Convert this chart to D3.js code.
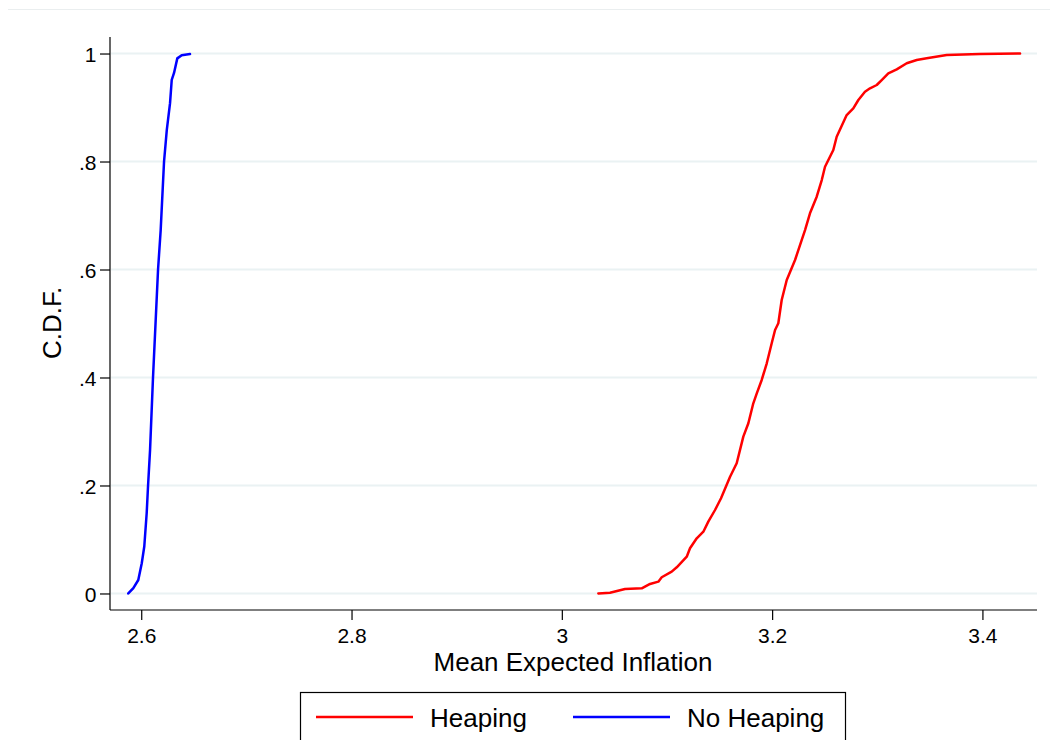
<!DOCTYPE html>
<html>
<head>
<meta charset="utf-8">
<script src="https://cdn.jsdelivr.net/npm/d3@7"></script>
<style>
  html, body { margin: 0; padding: 0; background: #fff; }
  svg { display: block; font-family: "Liberation Sans", Arial, Helvetica, sans-serif; }
</style>
</head>
<body>
<svg id="chart" width="1057" height="740"></svg>
<script>
// ---- Data ----
const heapingX = [3.0347,3.0458,3.0601,3.0760,3.0839,3.0918,3.0950,3.1045,3.1093,3.1188,3.1219,3.1283,3.1346,3.1393,3.1457,3.1514,3.1600,3.1663,3.1726,3.1774,3.1821,3.1854,3.1901,3.1949,3.1996,3.2028,3.2059,3.2091,3.2139,3.2218,3.2281,3.2313,3.2360,3.2424,3.2472,3.2503,3.2582,3.2614,3.2709,3.2772,3.2820,3.2883,3.2931,3.2995,3.3042,3.3105,3.3185,3.3280,3.3375,3.3470,3.3660,3.3977,3.4358];
const heapingY = [0.000,0.0015,0.0083,0.0096,0.0176,0.0219,0.030,0.0404,0.0485,0.0681,0.0837,0.1022,0.1144,0.1330,0.1546,0.1763,0.2163,0.2411,0.2904,0.3152,0.3522,0.3707,0.3954,0.4263,0.4633,0.4880,0.5004,0.5435,0.5806,0.6176,0.6546,0.6731,0.7041,0.7348,0.7657,0.7904,0.8213,0.8459,0.8861,0.8985,0.9139,0.9293,0.9356,0.9417,0.9509,0.9633,0.9707,0.9819,0.9880,0.9911,0.9972,0.9991,1.000];
const noHeapingX = [2.5877,2.5925,2.5972,2.6005,2.6029,2.6052,2.6065,2.6084,2.6112,2.6160,2.6185,2.6217,2.6243,2.6274,2.6290,2.6312,2.6343,2.6385,2.6464];
const noHeapingY = [0.000,0.010,0.025,0.056,0.087,0.149,0.200,0.266,0.400,0.600,0.673,0.800,0.858,0.908,0.951,0.964,0.991,0.997,0.999];
const xTicks = [2.6, 2.8, 3.0, 3.2, 3.4];
const xTickLabels = ["2.6", "2.8", "3", "3.2", "3.4"];
const yTicks = [0, 0.2, 0.4, 0.6, 0.8, 1];
const yTickLabels = ["0", ".2", ".4", ".6", ".8", "1"];
const seriesNames = ["Heaping", "No Heaping"];
const seriesColors = ["#ff0000", "#0000ff"];
const xTitle = "Mean Expected Inflation";
const yTitle = "C.D.F.";

// ---- Layout ----
const svg = d3.select("#chart");
const plot = { left: 110, right: 1037, top: 37, bottom: 610 };
const FONT = "'Liberation Sans', Arial, Helvetica, sans-serif";

const x = d3.scaleLinear().domain([2.5703, 3.4519]).range([plot.left, plot.right]);
const y = d3.scaleLinear().domain([-0.0306, 1.0306]).range([plot.bottom, plot.top]);

// faint outer border (top edge)
svg.append("line")
  .attr("x1", 8).attr("x2", 1050).attr("y1", 9.5).attr("y2", 9.5)
  .attr("stroke", "#eaeeef").attr("stroke-width", 1);

// gridlines
svg.append("g").selectAll("line").data(yTicks).join("line")
  .attr("x1", plot.left + 1).attr("x2", plot.right)
  .attr("y1", d => y(d)).attr("y2", d => y(d))
  .attr("stroke", "#eaf2f3").attr("stroke-width", 2);

// y axis
const yAxis = d3.axisLeft(y).tickValues(yTicks)
  .tickFormat((d, i) => yTickLabels[i]).tickSize(10).tickPadding(3.5).tickSizeOuter(0);
const gy = svg.append("g").attr("transform", `translate(${plot.left},0)`).call(yAxis);
gy.select(".domain").remove();
gy.append("line").attr("x1", 0).attr("x2", 0).attr("y1", plot.top).attr("y2", plot.bottom)
  .attr("stroke", "#000").attr("stroke-width", 1.2);
gy.selectAll(".tick line").attr("stroke", "#000").attr("stroke-width", 1.2);
gy.selectAll(".tick text").attr("font-size", 21).attr("fill", "#000")
  .attr("font-family", FONT).attr("dy", "0.36em");

// x axis
const xAxis = d3.axisBottom(x).tickValues(xTicks)
  .tickFormat((d, i) => xTickLabels[i]).tickSize(10).tickSizeOuter(0);
const gx = svg.append("g").attr("transform", `translate(0,${plot.bottom})`).call(xAxis);
gx.select(".domain").remove();
gx.append("line").attr("x1", plot.left).attr("x2", plot.right).attr("y1", 0).attr("y2", 0)
  .attr("stroke", "#000").attr("stroke-width", 1.2);
gx.selectAll(".tick line").attr("stroke", "#000").attr("stroke-width", 1.2);
gx.selectAll(".tick text").attr("font-size", 21).attr("fill", "#000")
  .attr("font-family", FONT).attr("y", 33).attr("dy", 0);

// titles
svg.append("text").attr("x", 573).attr("y", 671).attr("text-anchor", "middle")
  .attr("font-size", 26).attr("fill", "#000").text(xTitle);
svg.append("text").attr("transform", "translate(61,323) rotate(-90)")
  .attr("text-anchor", "middle").attr("font-size", 26).attr("fill", "#000").text(yTitle);

// curves
const line = d3.line().x(d => x(d[0])).y(d => y(d[1]));
const series = [
  d3.zip(heapingX, heapingY),
  d3.zip(noHeapingX, noHeapingY)
];
series.forEach((pts, i) => {
  svg.append("path").datum(pts)
    .attr("d", line).attr("fill", "none")
    .attr("stroke", seriesColors[i]).attr("stroke-width", 2.5)
    .attr("stroke-linejoin", "round").attr("stroke-linecap", "round");
});

// legend
svg.append("rect").attr("x", 300.5).attr("y", 692.5).attr("width", 545).attr("height", 60)
  .attr("fill", "#fff").attr("stroke", "#000").attr("stroke-width", 1.2);
const legendItems = [
  { x1: 316, x2: 413, tx: 430 },
  { x1: 573, x2: 670, tx: 687 }
];
legendItems.forEach((it, i) => {
  svg.append("line").attr("x1", it.x1).attr("x2", it.x2).attr("y1", 717).attr("y2", 717)
    .attr("stroke", seriesColors[i]).attr("stroke-width", 2.5);
  svg.append("text").attr("x", it.tx).attr("y", 727).attr("font-size", 26).attr("fill", "#000")
    .text(seriesNames[i]);
});
</script>
</body>
</html>
